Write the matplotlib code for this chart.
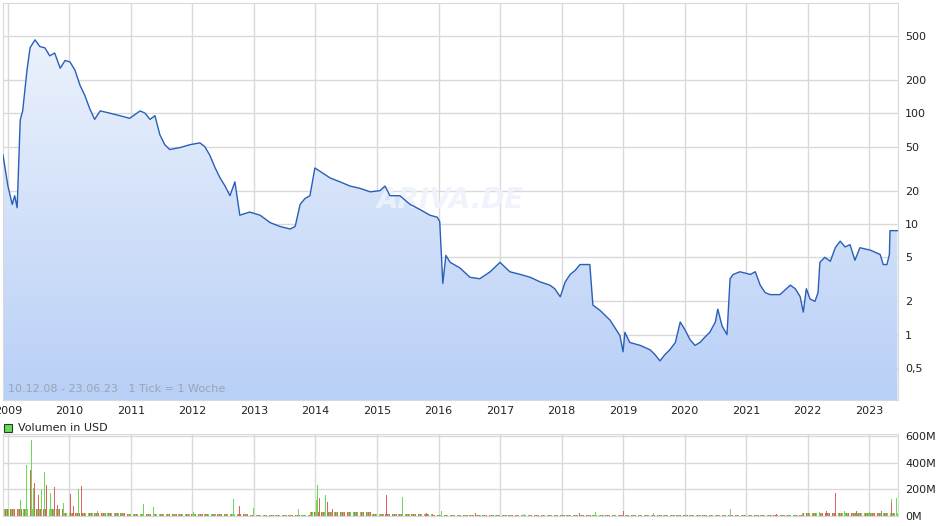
import numpy as np
import matplotlib
matplotlib.use("Agg")
import matplotlib.pyplot as plt
from matplotlib.ticker import FixedLocator, NullLocator
from matplotlib.patches import Polygon

# price (USD, weekly close) vs decimal year
px_t = [2008.92, 2009.00, 2009.07, 2009.11, 2009.15, 2009.20, 2009.24, 2009.31, 2009.36, 2009.44,
        2009.52, 2009.60, 2009.68, 2009.76, 2009.85, 2009.93, 2010.01, 2010.09, 2010.17, 2010.25,
        2010.33, 2010.41, 2010.50, 2010.66, 2010.82, 2010.98, 2011.15, 2011.23, 2011.31, 2011.39,
        2011.47, 2011.55, 2011.63, 2011.80, 2011.96, 2012.12, 2012.20, 2012.28, 2012.37, 2012.45,
        2012.53, 2012.61, 2012.69, 2012.77, 2012.93, 2013.10, 2013.26, 2013.42, 2013.59, 2013.67,
        2013.75, 2013.83, 2013.91, 2013.99, 2014.07, 2014.24, 2014.40, 2014.56, 2014.72, 2014.89,
        2015.05, 2015.13, 2015.21, 2015.37, 2015.54, 2015.70, 2015.86, 2015.98, 2016.02, 2016.07,
        2016.12, 2016.19, 2016.35, 2016.51, 2016.67, 2016.84, 2017.00, 2017.16, 2017.33, 2017.49,
        2017.65, 2017.81, 2017.89, 2017.98, 2018.06, 2018.14, 2018.22, 2018.30, 2018.46, 2018.51,
        2018.63, 2018.79, 2018.95, 2019.00, 2019.03, 2019.11, 2019.28, 2019.44, 2019.52, 2019.60,
        2019.68, 2019.76, 2019.85, 2019.93, 2020.01, 2020.09, 2020.17, 2020.25, 2020.33, 2020.41,
        2020.50, 2020.54, 2020.61, 2020.69, 2020.74, 2020.79, 2020.90, 2021.07, 2021.15, 2021.23,
        2021.31, 2021.39, 2021.55, 2021.72, 2021.80, 2021.88, 2021.93, 2021.98, 2022.04, 2022.12,
        2022.17, 2022.20, 2022.28, 2022.37, 2022.45, 2022.53, 2022.61, 2022.69, 2022.77, 2022.85,
        2023.02, 2023.18, 2023.23, 2023.29, 2023.33, 2023.34, 2023.46]
px_v = [42, 22, 15, 18, 14, 87, 105, 245, 390, 460,
        400, 390, 330, 350, 255, 300, 290, 245, 180, 145,
        110, 88, 105, 100, 95, 90, 105, 100, 88, 95,
        64, 52, 47, 49, 52, 54, 50, 42, 32, 26,
        22, 18, 24, 12, 12.8, 12, 10.3, 9.5, 9, 9.5,
        15, 17, 18, 32, 30, 26, 24, 22, 21, 19.5,
        20, 22, 18, 18, 15, 13.5, 12, 11.5, 10.5, 2.9,
        5.2, 4.5, 4.0, 3.3, 3.2, 3.7, 4.5, 3.7, 3.5, 3.3,
        3.0, 2.8, 2.6, 2.2, 3.0, 3.5, 3.8, 4.3, 4.3, 1.85,
        1.65, 1.35, 0.98, 0.7, 1.05, 0.85, 0.8, 0.73, 0.66, 0.58,
        0.66, 0.73, 0.85, 1.3, 1.1, 0.9, 0.8, 0.85, 0.95, 1.05,
        1.3, 1.7, 1.2, 1.0, 3.2, 3.5, 3.7, 3.5, 3.7, 2.8,
        2.4, 2.3, 2.3, 2.8, 2.6, 2.2, 1.6, 2.6, 2.1, 2.0,
        2.4, 4.5, 5.0, 4.6, 6.1, 7.0, 6.2, 6.5, 4.7, 6.1,
        5.8, 5.3, 4.3, 4.3, 5.3, 8.7, 8.7]

# volume in million USD (notable bars), up = green / down = red
vol_t = [2009.21, 2009.31, 2009.36, 2009.39, 2009.42, 2009.44, 2009.49, 2009.54, 2009.60, 2009.63,
         2009.70, 2009.75, 2009.80, 2009.91, 2010.02, 2010.06, 2010.15, 2010.20, 2010.45, 2011.20,
         2011.37, 2012.02, 2012.67, 2012.76, 2013.00, 2013.73, 2014.01, 2014.04, 2014.07, 2014.17,
         2014.20, 2014.28, 2015.16, 2015.41, 2015.81, 2016.05, 2016.60, 2017.40, 2018.30, 2018.55,
         2019.00, 2019.50, 2020.74, 2021.50, 2022.20, 2022.30, 2022.45, 2022.60, 2022.80, 2023.00,
         2023.20, 2023.36, 2023.37, 2023.45]
vol_v = [123, 385, 346, 570, 213, 250, 160, 205, 330, 230,
         170, 220, 82, 100, 167, 77, 205, 223, 38, 90,
         70, 30, 128, 77, 60, 56, 120, 230, 133, 160,
         108, 51, 160, 140, 25, 40, 20, 18, 25, 30,
         35, 22, 50, 15, 30, 40, 170, 35, 40, 30,
         35, 130, 95, 135]
vol_up = [1, 1, 0, 1, 1, 0, 0, 1, 1, 0,
          1, 0, 0, 1, 0, 0, 1, 0, 1, 1,
          1, 1, 1, 0, 1, 1, 1, 1, 0, 1,
          0, 0, 0, 1, 0, 1, 0, 1, 0, 1,
          0, 1, 1, 0, 1, 0, 0, 1, 0, 1,
          0, 1, 0, 1]
# typical weekly volume level per year (million USD)
bg_years = list(range(2009, 2024))
bg_level = [50, 25, 18, 12, 9, 28, 14, 9, 7, 7, 7, 9, 7, 20, 20]

W, H = 940, 526
fig = plt.figure(figsize=(W / 100, H / 100), dpi=100)
ax = fig.add_axes([3 / W, 126 / H, 895 / W, 397 / H])
av = fig.add_axes([3 / W, 10 / H, 895 / W, 82 / H])

grid_c = "#d9d9d9"
xmin, xmax = 2008.92, 2023.47
ylo, yhi = 0.257, 990

# gradient fill under price line
grad = np.linspace(0, 1, 256).reshape(-1, 1)
cmap = matplotlib.colors.LinearSegmentedColormap.from_list("g", ["#f0f5fd", "#b8cff6"])
im = ax.imshow(grad, cmap=cmap, aspect="auto", extent=[0, 1, 0, 1],
               transform=ax.transAxes, zorder=1)
poly = Polygon(list(zip(px_t, px_v)) + [(px_t[-1], ylo), (px_t[0], ylo)], closed=True,
               transform=ax.transData, facecolor="none", edgecolor="none")
ax.add_patch(poly)
im.set_clip_path(poly)
ax.plot(px_t, px_v, color="#2a5fb8", lw=1.0, zorder=3)

ax.set_yscale("log")
ax.set_xlim(xmin, xmax)
ax.set_ylim(ylo, yhi)
yt = [0.5, 1, 2, 5, 10, 20, 50, 100, 200, 500]
ax.yaxis.set_major_locator(FixedLocator(yt))
ax.yaxis.set_minor_locator(NullLocator())
ax.set_yticklabels(["0,5", "1", "2", "5", "10", "20", "50", "100", "200", "500"])
years = list(range(2009, 2024))
ax.set_xticks(years)
ax.set_xticklabels([str(y) for y in years])
for a in (ax, av):
    a.grid(True, color=grid_c, lw=1, zorder=0)
    a.set_axisbelow(True)
    a.yaxis.tick_right()
    a.tick_params(length=0, labelsize=8, colors="#222222", pad=5)
    for s in a.spines.values():
        s.set_color(grid_c)
ax.tick_params(axis="x", pad=4)

ax.text(0.006, 0.015, "10.12.08 - 23.06.23   1 Tick = 1 Woche", transform=ax.transAxes,
        fontsize=8, color="#9aa4b4", va="bottom", ha="left", zorder=4)
ax.text(0.50, 0.505, "ARIVA.DE", transform=ax.transAxes, fontsize=20, fontweight="bold",
        color="#eef3fc", alpha=0.9, ha="center", va="center", style="italic", zorder=2)

# volume panel: low weekly background bars, then notable bars
for i, y in enumerate(bg_years):
    wk = [y - 0.08 + k / 52.0 for k in range(52) if xmin < y - 0.08 + k / 52.0 < xmax]
    av.bar(wk, [bg_level[i]] * len(wk), width=0.014,
           color=["#e06060" if k % 2 else "#66dd55" for k in range(len(wk))], zorder=2)
cols = ["#66dd55" if u else "#e06060" for u in vol_up]
av.bar(vol_t, vol_v, width=0.016, color=cols, zorder=3)
av.set_xlim(xmin, xmax)
av.set_ylim(0, 615)
av.set_yticks([0, 200, 400, 600])
av.set_yticklabels(["0M", "200M", "400M", "600M"])
av.set_xticks(years)
av.set_xticklabels([])

fig.patches.append(matplotlib.patches.Rectangle((4 / W, 94 / H), 8 / W, 8 / H,
                   transform=fig.transFigure, facecolor="#66dd55", edgecolor="#333333", lw=0.8))
fig.text(18 / W, 98 / H, "Volumen in USD", fontsize=8, va="center", ha="left", color="#222222")

fig.savefig("out.png", dpi=100)
